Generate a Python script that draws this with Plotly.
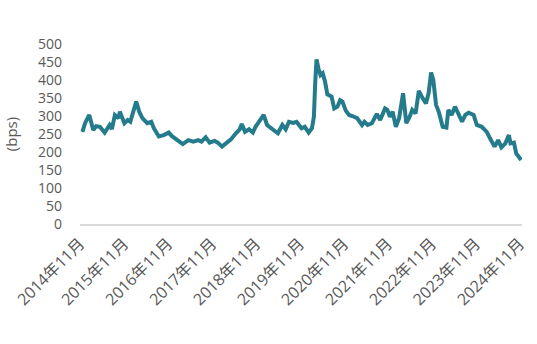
import plotly.graph_objects as go

dates = [
    "2014-11-21", "2014-12-13", "2015-01-17", "2015-02-19", "2015-03-15", "2015-04-15",
    "2015-05-25", "2015-07-05", "2015-07-24", "2015-08-18", "2015-09-17", "2015-09-28",
    "2015-11-05", "2015-12-02", "2015-12-24", "2016-01-12", "2016-02-11", "2016-03-07",
    "2016-04-02", "2016-05-13", "2016-06-15", "2016-07-07", "2016-08-17", "2016-09-27",
    "2016-11-07", "2016-12-04", "2017-01-14", "2017-03-04", "2017-04-19", "2017-05-30",
    "2017-07-10", "2017-08-06", "2017-09-10", "2017-10-13", "2017-11-22", "2017-12-20",
    "2018-01-24", "2018-02-26", "2018-04-08", "2018-05-19", "2018-06-20", "2018-07-07",
    "2018-08-03", "2018-09-05", "2018-10-07", "2018-10-29", "2018-11-25", "2018-12-23",
    "2019-01-05", "2019-02-02", "2019-03-15", "2019-05-03", "2019-06-09", "2019-07-07",
    "2019-08-03", "2019-09-07", "2019-10-05", "2019-11-15", "2019-12-12", "2020-01-14",
    "2020-02-10", "2020-02-26", "2020-03-08", "2020-03-19", "2020-04-04", "2020-04-21",
    "2020-05-09", "2020-05-29", "2020-06-17", "2020-07-22", "2020-08-13", "2020-09-09",
    "2020-10-01", "2020-10-20", "2020-11-17", "2020-12-14", "2021-01-11", "2021-02-19",
    "2021-04-01", "2021-04-21", "2021-05-18", "2021-06-22", "2021-08-02", "2021-08-30",
    "2021-10-09", "2021-10-28", "2021-11-19", "2021-12-11", "2022-01-07", "2022-02-03",
    "2022-03-08", "2022-04-04", "2022-05-02", "2022-05-23", "2022-06-20", "2022-07-17",
    "2022-08-18", "2022-09-14", "2022-10-06", "2022-10-27", "2022-11-14", "2022-12-07",
    "2022-12-31", "2023-01-31", "2023-03-03", "2023-03-19", "2023-04-15", "2023-05-13",
    "2023-06-09", "2023-07-11", "2023-08-07", "2023-09-04", "2023-10-15", "2023-11-11",
    "2023-12-22", "2024-02-01", "2024-02-28", "2024-04-06", "2024-05-06", "2024-06-02",
    "2024-07-05", "2024-08-03", "2024-08-17", "2024-09-14", "2024-10-03", "2024-11-13",
]

spread_bps = [
    256, 280, 303, 261, 272, 270,
    254, 275, 264, 303, 294, 312,
    280, 289, 284, 307, 340, 312,
    294, 280, 284, 266, 243, 247,
    254, 244, 233, 222, 233, 229,
    233, 229, 241, 226, 231, 226,
    215, 224, 235, 252, 263, 278,
    256, 263, 254, 270, 284, 298,
    303, 275, 266, 252, 275, 263,
    284, 281, 284, 266, 270, 254,
    266, 298, 391, 457, 432, 414,
    419, 395, 360, 354, 321, 326,
    344, 340, 315, 303, 300, 294,
    275, 284, 275, 280, 306, 289,
    321, 317, 298, 312, 270, 294,
    363, 280, 298, 317, 307, 370,
    349, 335, 363, 421, 400, 331,
    310, 270, 268, 317, 303, 326,
    307, 284, 303, 309, 303, 275,
    270, 256, 238, 215, 233, 213,
    224, 247, 224, 226, 196, 178,
]

tick_dates = ["2014-11-01", "2015-11-01", "2016-11-01", "2017-11-01", "2018-11-01",
              "2019-11-01", "2020-11-01", "2021-11-01", "2022-11-01", "2023-11-01",
              "2024-11-01"]
tick_labels = ["2014年11月", "2015年11月", "2016年11月", "2017年11月", "2018年11月",
               "2019年11月", "2020年11月", "2021年11月", "2022年11月", "2023年11月",
               "2024年11月"]
y_ticks = [0, 50, 100, 150, 200, 250, 300, 350, 400, 450, 500]

fig = go.Figure()
fig.add_trace(go.Scatter(
    x=dates, y=spread_bps, mode="lines",
    line=dict(color="#237b8c", width=4),
    hoverinfo="skip", showlegend=False,
))

font_fam = "Open Sans, Noto Sans CJK SC, sans-serif"
fig.update_layout(
    width=537, height=344,
    margin=dict(l=80, r=8, t=44, b=120),
    paper_bgcolor="white", plot_bgcolor="white",
    font=dict(family=font_fam, size=14, color="#595959"),
    xaxis=dict(
        type="date",
        range=["2014-11-01", "2024-11-20"],
        tickvals=tick_dates, ticktext=tick_labels,
        tickangle=-45, showgrid=False, zeroline=False,
        showline=True, linecolor="#d9d9d9", linewidth=2,
        ticks="", ticklabelstandoff=2,
        tickfont=dict(size=16, color="#595959"),
    ),
    yaxis=dict(
        range=[0, 500], tickvals=y_ticks,
        showgrid=False, zeroline=False, showline=False,
        ticks="", ticklabelstandoff=17,
        tickfont=dict(size=14, color="#595959"),
        title=dict(text="(bps)", font=dict(size=15, color="#595959"), standoff=16),
    ),
)

fig.write_html("out.html")
